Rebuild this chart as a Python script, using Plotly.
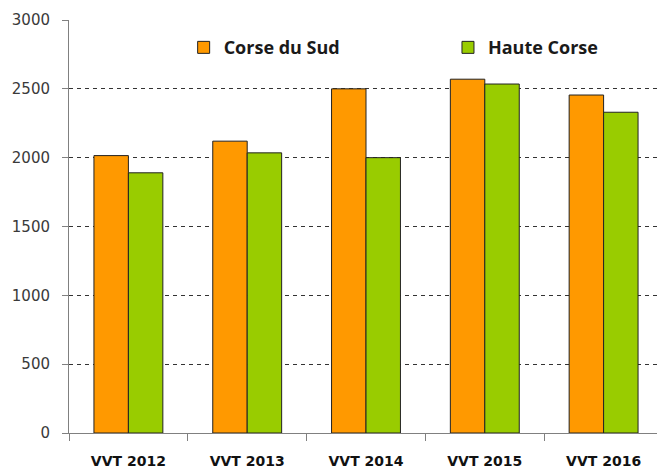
import plotly.graph_objects as go

categories = ["VVT 2012", "VVT 2013", "VVT 2014", "VVT 2015", "VVT 2016"]
corse_du_sud = [2015, 2120, 2500, 2570, 2455]
haute_corse = [1890, 2035, 2000, 2535, 2330]
y_ticks = [0, 500, 1000, 1500, 2000, 2500, 3000]

fig = go.Figure()
fig.add_trace(go.Bar(name="Corse du Sud", x=categories, y=corse_du_sud, legend="legend",
                     marker=dict(color="#FF9900", line=dict(color="#222222", width=1))))
fig.add_trace(go.Bar(name="Haute Corse", x=categories, y=haute_corse, legend="legend2",
                     marker=dict(color="#99CC00", line=dict(color="#222222", width=1))))

legend_font = dict(family="Open Sans", size=18, color="#1a1a1a", weight="bold")

# page has an 8px body margin; figure is sized so the plot lands where the reference has it
fig.update_layout(
    width=657, height=460,
    margin=dict(l=61, r=2, t=12, b=35),
    paper_bgcolor="white", plot_bgcolor="white",
    barmode="group", bargap=0.42, bargroupgap=0,
    font=dict(family="DejaVu Sans", size=15, color="#3a3a3a"),
    legend=dict(orientation="h", x=0.193, y=0.933, xanchor="left", yanchor="middle",
                font=legend_font, bgcolor="rgba(0,0,0,0)"),
    legend2=dict(orientation="h", x=0.638, y=0.933, xanchor="left", yanchor="middle",
                 font=legend_font, bgcolor="rgba(0,0,0,0)"),
    showlegend=True,
)
fig.update_yaxes(range=[0, 3000], tickvals=y_ticks, showgrid=True, gridcolor="#333333",
                 griddash="4px,4px", gridwidth=1, showline=True, linecolor="#808080",
                 linewidth=1, ticks="outside", ticklen=6, tickcolor="#808080",
                 tickfont=dict(size=15, color="#3a3a3a"), zeroline=False, ticklabelstandoff=9,
                 automargin=False)
fig.update_xaxes(showline=True, linecolor="#808080", linewidth=1, ticks="outside",
                 tickson="boundaries", ticklen=7, tickcolor="#808080",
                 tickfont=dict(size=14, color="#111111", weight="bold"),
                 ticklabelstandoff=15, automargin=False)

fig.write_html("out.html")
